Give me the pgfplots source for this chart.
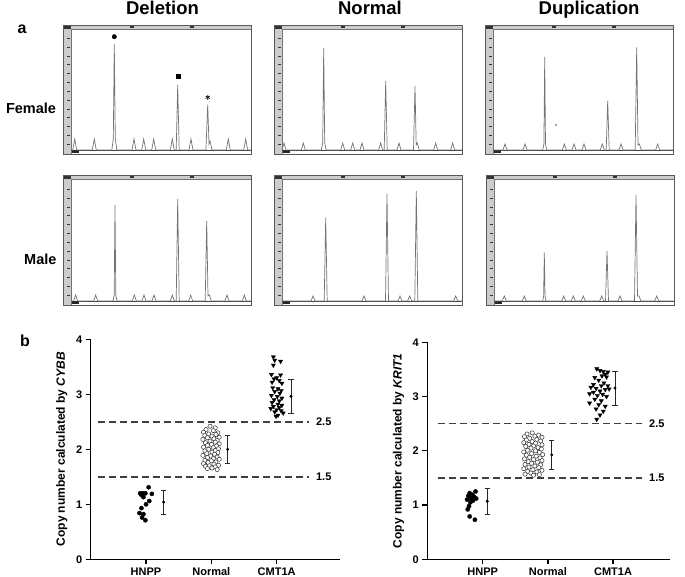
\documentclass[border=0pt]{standalone}
\usepackage{fontspec}
\setmainfont{Liberation Sans}
\usepackage{pgfplots}
\pgfplotsset{compat=1.18}
\newcommand\fs[1]{\fontsize{#1}{#1}\selectfont}
\newcommand\panelframe[3]{%
\begin{scope}[shift={(#1pt,-#2pt)}]
 \fill[black!20] (0pt,0pt) rectangle (8pt,#3pt);
 \fill[black!20] (8pt,{#3pt-4pt}) rectangle (188pt,#3pt);
 \fill[black!80] (0pt,{#3pt-4pt}) rectangle (8pt,#3pt);
 \fill[black!80] (67pt,{#3pt-3.2pt}) rectangle (70.5pt,{#3pt-1.3pt});
 \fill[black!80] (127pt,{#3pt-3.2pt}) rectangle (130.5pt,{#3pt-1.3pt});
 \draw[black!55,line width=0.5pt] (8pt,0pt) -- (8pt,{#3pt-4pt}) -- (188pt,{#3pt-4pt});
 \foreach \k in {0,...,12} \draw[black!80, line width=0.7pt] (4.3pt,{9.7pt+8.83pt*\k}) -- (7.3pt,{9.7pt+8.83pt*\k});
 \draw[black!75, line width=0.9pt] (8pt,4pt) -- (188pt,4pt);
 \fill[black!85] (8.5pt,1pt) rectangle (16pt,3.6pt);
 \draw[black!65, line width=0.8pt] (0pt,0pt) rectangle (188pt,#3pt);
\end{scope}}
\begin{document}
\begin{tikzpicture}
\useasboundingbox (0pt,0pt) rectangle (685pt,-577pt);
\pgfplotsset{
  trace/.style={scale only axis, width=188pt, xmin=0, xmax=188, ymin=0, hide axis, clip=false, anchor=south west},
  sig/.style={black!55, line width=0.7pt},
  cn/.style={scale only axis, anchor=south west, ymin=0, ymax=4,
    axis x line=bottom, axis y line=left,
    axis line style={-, line width=1.3pt},
    ytick={0,1,2,3,4}, xtick={1,2,3}, xticklabels={HNPP,Normal,CMT1A},
    tick align=outside, major tick length=5pt,
    tick style={line width=1.3pt, black},
    ticklabel style={font=\fs{11}\bfseries},
    /pgf/number format/assume math mode=true,
    ylabel style={font=\fs{12}\bfseries, anchor=center},
    clip=false},
  hn/.style={only marks, mark=*, mark size=2.1pt, black},
  no/.style={only marks, mark=*, mark size=2.1pt, mark options={fill=white, draw=black!80, line width=0.5pt}},
  cm/.style={only marks, mark=triangle*, mark size=2.4pt, black, mark options={rotate=180}},
  eb/.style={only marks, mark=*, mark size=1.3pt, black, error bars/.cd, y dir=both, y explicit,
    error bar style={line width=0.7pt, black!85}, error mark options={rotate=90, mark size=2.6pt, line width=0.7pt, black!85}},
  dl/.style={black!75, line width=1.4pt, dash pattern=on 7pt off 4pt},
}
% titles and labels
\node[anchor=base, font=\fs{18.5}\bfseries] at (162.5pt,-15pt) {Deletion};
\node[anchor=base, font=\fs{18.5}\bfseries] at (370pt,-15pt) {Normal};
\node[anchor=base, font=\fs{18.5}\bfseries] at (589pt,-15pt) {Duplication};
\node[anchor=base, font=\fs{16}\bfseries] at (22pt,-33.3pt) {a};
\node[anchor=base, font=\fs{16}\bfseries] at (25pt,-346pt) {b};
\node[anchor=base, font=\fs{14.5}\bfseries] at (31pt,-114pt) {Female};
\node[anchor=base, font=\fs{14.5}\bfseries] at (40.3pt,-265pt) {Male};
% frames
\panelframe{63}{154}{129}
\panelframe{274}{154}{129}
\panelframe{485}{154}{129}
\panelframe{63}{305}{130}
\panelframe{274}{305}{130}
\panelframe{486}{305}{130}
% Deletion female
\begin{axis}[trace, at={(63pt,-154pt)}, height=129pt, ymax=129]
\addplot[sig] coordinates {(8,4) (9.7,4) (11.7,15) (13.7,4) (29.3,4) (31.3,15) (33.3,4) (48.8,4) (50.3,15) (51.3,110) (52.3,15) (53.8,4) (69,4) (71,15) (73,4) (78.7,4) (80.7,15) (82.7,4) (88.7,4) (90.7,15) (92.7,4) (107.3,4) (109.3,15) (111.3,4) (113.2,4) (114.7,69) (116.2,4) (126,4) (128,15) (130,4) (142.9,4) (144.7,49) (146,10) (147,13) (149,4) (163.3,4) (165.3,15) (167.3,4) (180.7,4) (182.7,15) (184.7,4) (188,4)};
\addplot[only marks, mark=*, mark size=2.2pt, black] coordinates {(51.3,117.3)};
\addplot[only marks, mark=square*, mark size=2pt, black] coordinates {(114.7,77.3)};
\addplot[only marks, mark=asterisk, mark size=2.5pt, black, mark options={line width=0.6pt}] coordinates {(144.7,56.7)};
\end{axis}
% Normal female
\begin{axis}[trace, at={(274pt,-154pt)}, height=129pt, ymax=129]
\addplot[sig] coordinates {(8,4) (10,11) (12,4) (27.3,4) (29.3,11) (31.3,4) (47.3,4) (48.7,11) (49.7,106) (50.7,11) (52.1,4) (66.7,4) (68.7,11) (70.7,4) (76.7,4) (78.7,11) (80.7,4) (86,4) (88,11) (90,4) (104.7,4) (106.7,11) (108.7,4) (110.2,4) (111.7,73) (113.2,4) (123,4) (125,11) (127,4) (139.5,4) (141,68) (142.2,9) (143.3,11) (145.3,4) (159.7,4) (161.7,11) (163.7,4) (176.7,4) (178.7,11) (180.7,4) (188,4)};
\end{axis}
% Duplication female
\begin{axis}[trace, at={(485pt,-154pt)}, height=129pt, ymax=129]
\addplot[sig] coordinates {(8,4) (18,4) (20,10) (22,4) (38,4) (40,10) (42,4) (57.7,4) (58.9,10) (59.7,97) (60.5,10) (61.7,4) (77.3,4) (79.3,10) (81.3,4) (87,4) (89,10) (91,4) (97,4) (99,10) (101,4) (115.3,4) (117.3,10) (119.3,4) (121.2,4) (122.7,53) (124.2,4) (134,4) (136,10) (138,4) (150.2,4) (151.7,106.7) (153,9) (154.3,10) (156.3,4) (170.7,4) (172.7,10) (174.7,4) (188,4)};
\addplot[only marks, mark=*, mark size=0.6pt, black!60] coordinates {(71,29)};
\end{axis}
% Deletion male
\begin{axis}[trace, at={(63pt,-305pt)}, height=130pt, ymax=130]
\addplot[sig] coordinates {(8,4) (10.7,4) (12.7,10) (14.7,4) (30.7,4) (32.7,10) (34.7,4) (50,4) (51.2,10) (52,100) (52.8,10) (54,4) (69.3,4) (71.3,10) (73.3,4) (79,4) (81,10) (83,4) (89,4) (91,10) (93,4) (107.3,4) (109.3,10) (111.3,4) (113.2,4) (114.7,106) (116.2,4) (125.7,4) (127.7,10) (129.7,4) (142.2,4) (143.7,84) (145,9) (146.3,10) (148.3,4) (162,4) (164,10) (166,4) (179.3,4) (181.3,10) (183.3,4) (188,4)};
\end{axis}
% Normal male
\begin{axis}[trace, at={(274pt,-305pt)}, height=130pt, ymax=130]
\addplot[sig] coordinates {(8,4) (37,4) (39,9) (41,4) (50.2,4) (51.7,87.3) (53.2,4) (88,4) (90,9) (92,4) (111.5,4) (113,111.3) (114.5,4) (124,4) (126,9) (128,4) (133.7,4) (135.7,9) (137.7,4) (140.8,4) (142.3,114) (143.8,4) (179.7,4) (181.7,9) (183.7,4) (188,4)};
\end{axis}
% Duplication male
\begin{axis}[trace, at={(486pt,-305pt)}, height=130pt, ymax=130]
\addplot[sig] coordinates {(8,4) (16.3,4) (18.3,9) (20.3,4) (36.3,4) (38.3,9) (40.3,4) (56.8,4) (57.6,9) (58.3,52.3) (59,9) (59.8,4) (75.7,4) (77.7,9) (79.7,4) (85.3,4) (87.3,9) (89.3,4) (95.3,4) (97.3,9) (99.3,4) (113.7,4) (115.7,9) (117.7,4) (119.5,4) (121,54) (122.5,4) (132,4) (134,9) (136,4) (148.5,4) (150,110) (151.5,9) (153,9) (155,4) (168.7,4) (170.7,9) (172.7,4) (188,4)};
\end{axis}
% CYBB
\begin{axis}[cn, at={(90.7pt,-559.3pt)}, width=249.3pt, height=220pt, xmin=0.153, xmax=3.97,
  ylabel={Copy number calculated by \textit{CYBB}}, ylabel style={at={(axis description cs:-0.116,0.5)}}]
\addplot[dl] coordinates {(0.27,2.5) (3.5,2.5)};
\addplot[dl] coordinates {(0.27,1.5) (3.5,1.5)};
\node[anchor=west, font=\fs{11}\bfseries] at (axis cs:3.55,2.5) {2.5};
\node[anchor=west, font=\fs{11}\bfseries] at (axis cs:3.55,1.5) {1.5};
\addplot[hn] coordinates {(1.04,1.31) (0.91,1.20) (0.95,1.20) (0.99,1.20) (1.09,1.19) (0.93,1.17) (0.96,1.13) (1.05,1.06) (1.00,1.00) (0.93,0.93) (0.90,0.84) (0.96,0.82) (0.94,0.76) (0.99,0.71)};
\addplot[no] coordinates {(1.98,2.42) (2.06,2.39) (1.92,2.36) (2.03,2.34) (1.88,2.31) (2.10,2.30) (1.96,2.28) (2.07,2.27) (1.90,2.25) (2.01,2.24) (2.12,2.22) (1.94,2.21) (2.04,2.19) (1.87,2.18) (2.09,2.16) (1.98,2.15) (2.06,2.13) (1.91,2.12) (2.12,2.10) (2.00,2.09) (1.94,2.07) (2.08,2.06) (1.88,2.04) (2.03,2.03) (2.11,2.01) (1.96,2.00) (2.06,1.98) (1.90,1.97) (2.01,1.95) (2.10,1.94) (1.93,1.92) (2.05,1.91) (1.87,1.89) (1.99,1.88) (2.09,1.86) (1.94,1.85) (2.03,1.83) (2.12,1.82) (1.90,1.80) (2.00,1.79) (2.07,1.77) (1.95,1.76) (1.88,1.74) (2.04,1.73) (2.11,1.71) (1.97,1.70) (1.91,1.69) (2.06,1.68) (2.01,1.66) (1.94,1.65) (2.09,1.63)};
\addplot[cm] coordinates {(2.95,3.68) (2.97,3.62) (3.06,3.60) (2.95,3.53) (2.92,3.36) (3.06,3.35) (3.00,3.30) (2.96,3.28) (3.04,3.25) (2.93,3.22) (3.08,3.20) (2.94,3.12) (3.02,3.10) (3.07,3.07) (2.97,3.05) (3.05,3.02) (2.92,2.98) (3.01,2.96) (3.08,2.93) (2.96,2.90) (3.04,2.88) (2.93,2.85) (3.02,2.82) (3.08,2.80) (2.95,2.78) (3.04,2.76) (2.91,2.74) (3.00,2.72) (3.07,2.70) (2.97,2.68) (3.10,2.66) (3.02,2.62) (2.99,2.60)};
\addplot[eb] coordinates {(1.27,1.04) +- (0,0.22) (2.25,2.00) +- (0,0.26) (3.22,2.965) +- (0,0.315)};
\end{axis}
% KRIT1
\begin{axis}[cn, at={(427.3pt,-559.3pt)}, width=242.7pt, height=217pt, xmin=0.15, xmax=3.874,
  ylabel={Copy number calculated by \textit{KRIT1}}, ylabel style={at={(axis description cs:-0.119,0.5)}}]
\addplot[dl] coordinates {(0.32,2.5) (3.44,2.5)};
\addplot[dl] coordinates {(0.32,1.5) (3.44,1.5)};
\node[anchor=west, font=\fs{11}\bfseries] at (axis cs:3.5,2.5) {2.5};
\node[anchor=west, font=\fs{11}\bfseries] at (axis cs:3.5,1.5) {1.5};
\addplot[hn] coordinates {(0.89,1.25) (0.80,1.22) (0.84,1.19) (0.78,1.17) (0.87,1.15) (0.82,1.13) (0.90,1.12) (0.76,1.10) (0.85,1.08) (0.81,1.05) (0.79,0.98) (0.77,0.92) (0.80,0.79) (0.88,0.73)};
\addplot[no] coordinates {(1.76,2.33) (1.68,2.31) (1.86,2.29) (1.80,2.27) (1.64,2.26) (1.91,2.25) (1.72,2.23) (1.83,2.21) (1.67,2.20) (1.89,2.18) (1.76,2.17) (1.63,2.15) (1.81,2.14) (1.71,2.12) (1.91,2.11) (1.78,2.09) (1.66,2.08) (1.85,2.06) (1.74,2.05) (1.90,2.03) (1.69,2.01) (1.81,2.00) (1.63,1.98) (1.87,1.97) (1.75,1.95) (1.92,1.93) (1.67,1.92) (1.82,1.90) (1.72,1.88) (1.88,1.87) (1.64,1.85) (1.78,1.84) (1.91,1.82) (1.70,1.80) (1.84,1.79) (1.75,1.77) (1.65,1.75) (1.89,1.74) (1.80,1.72) (1.71,1.70) (1.86,1.69) (1.63,1.67) (1.77,1.65) (1.91,1.64) (1.69,1.62) (1.83,1.61) (1.74,1.59) (1.65,1.57) (1.87,1.56) (1.78,1.55)};
\addplot[cm] coordinates {(2.75,3.51) (2.80,3.48) (2.85,3.46) (2.92,3.45) (2.88,3.41) (2.83,3.38) (2.90,3.36) (2.72,3.35) (2.78,3.30) (2.86,3.25) (2.70,3.22) (2.92,3.20) (2.82,3.20) (2.66,3.17) (2.74,3.15) (2.88,3.13) (2.94,3.14) (2.80,3.10) (2.70,3.08) (2.64,3.05) (2.84,3.04) (2.76,3.02) (2.90,3.00) (2.72,2.95) (2.82,2.92) (2.64,2.88) (2.78,2.85) (2.88,2.82) (2.74,2.77) (2.85,2.73) (2.80,2.66) (2.75,2.58)};
\addplot[eb] coordinates {(1.07,1.07) +- (0,0.24) (2.06,1.925) +- (0,0.275) (3.03,3.155) +- (0,0.315)};
\end{axis}
\end{tikzpicture}
\end{document}
